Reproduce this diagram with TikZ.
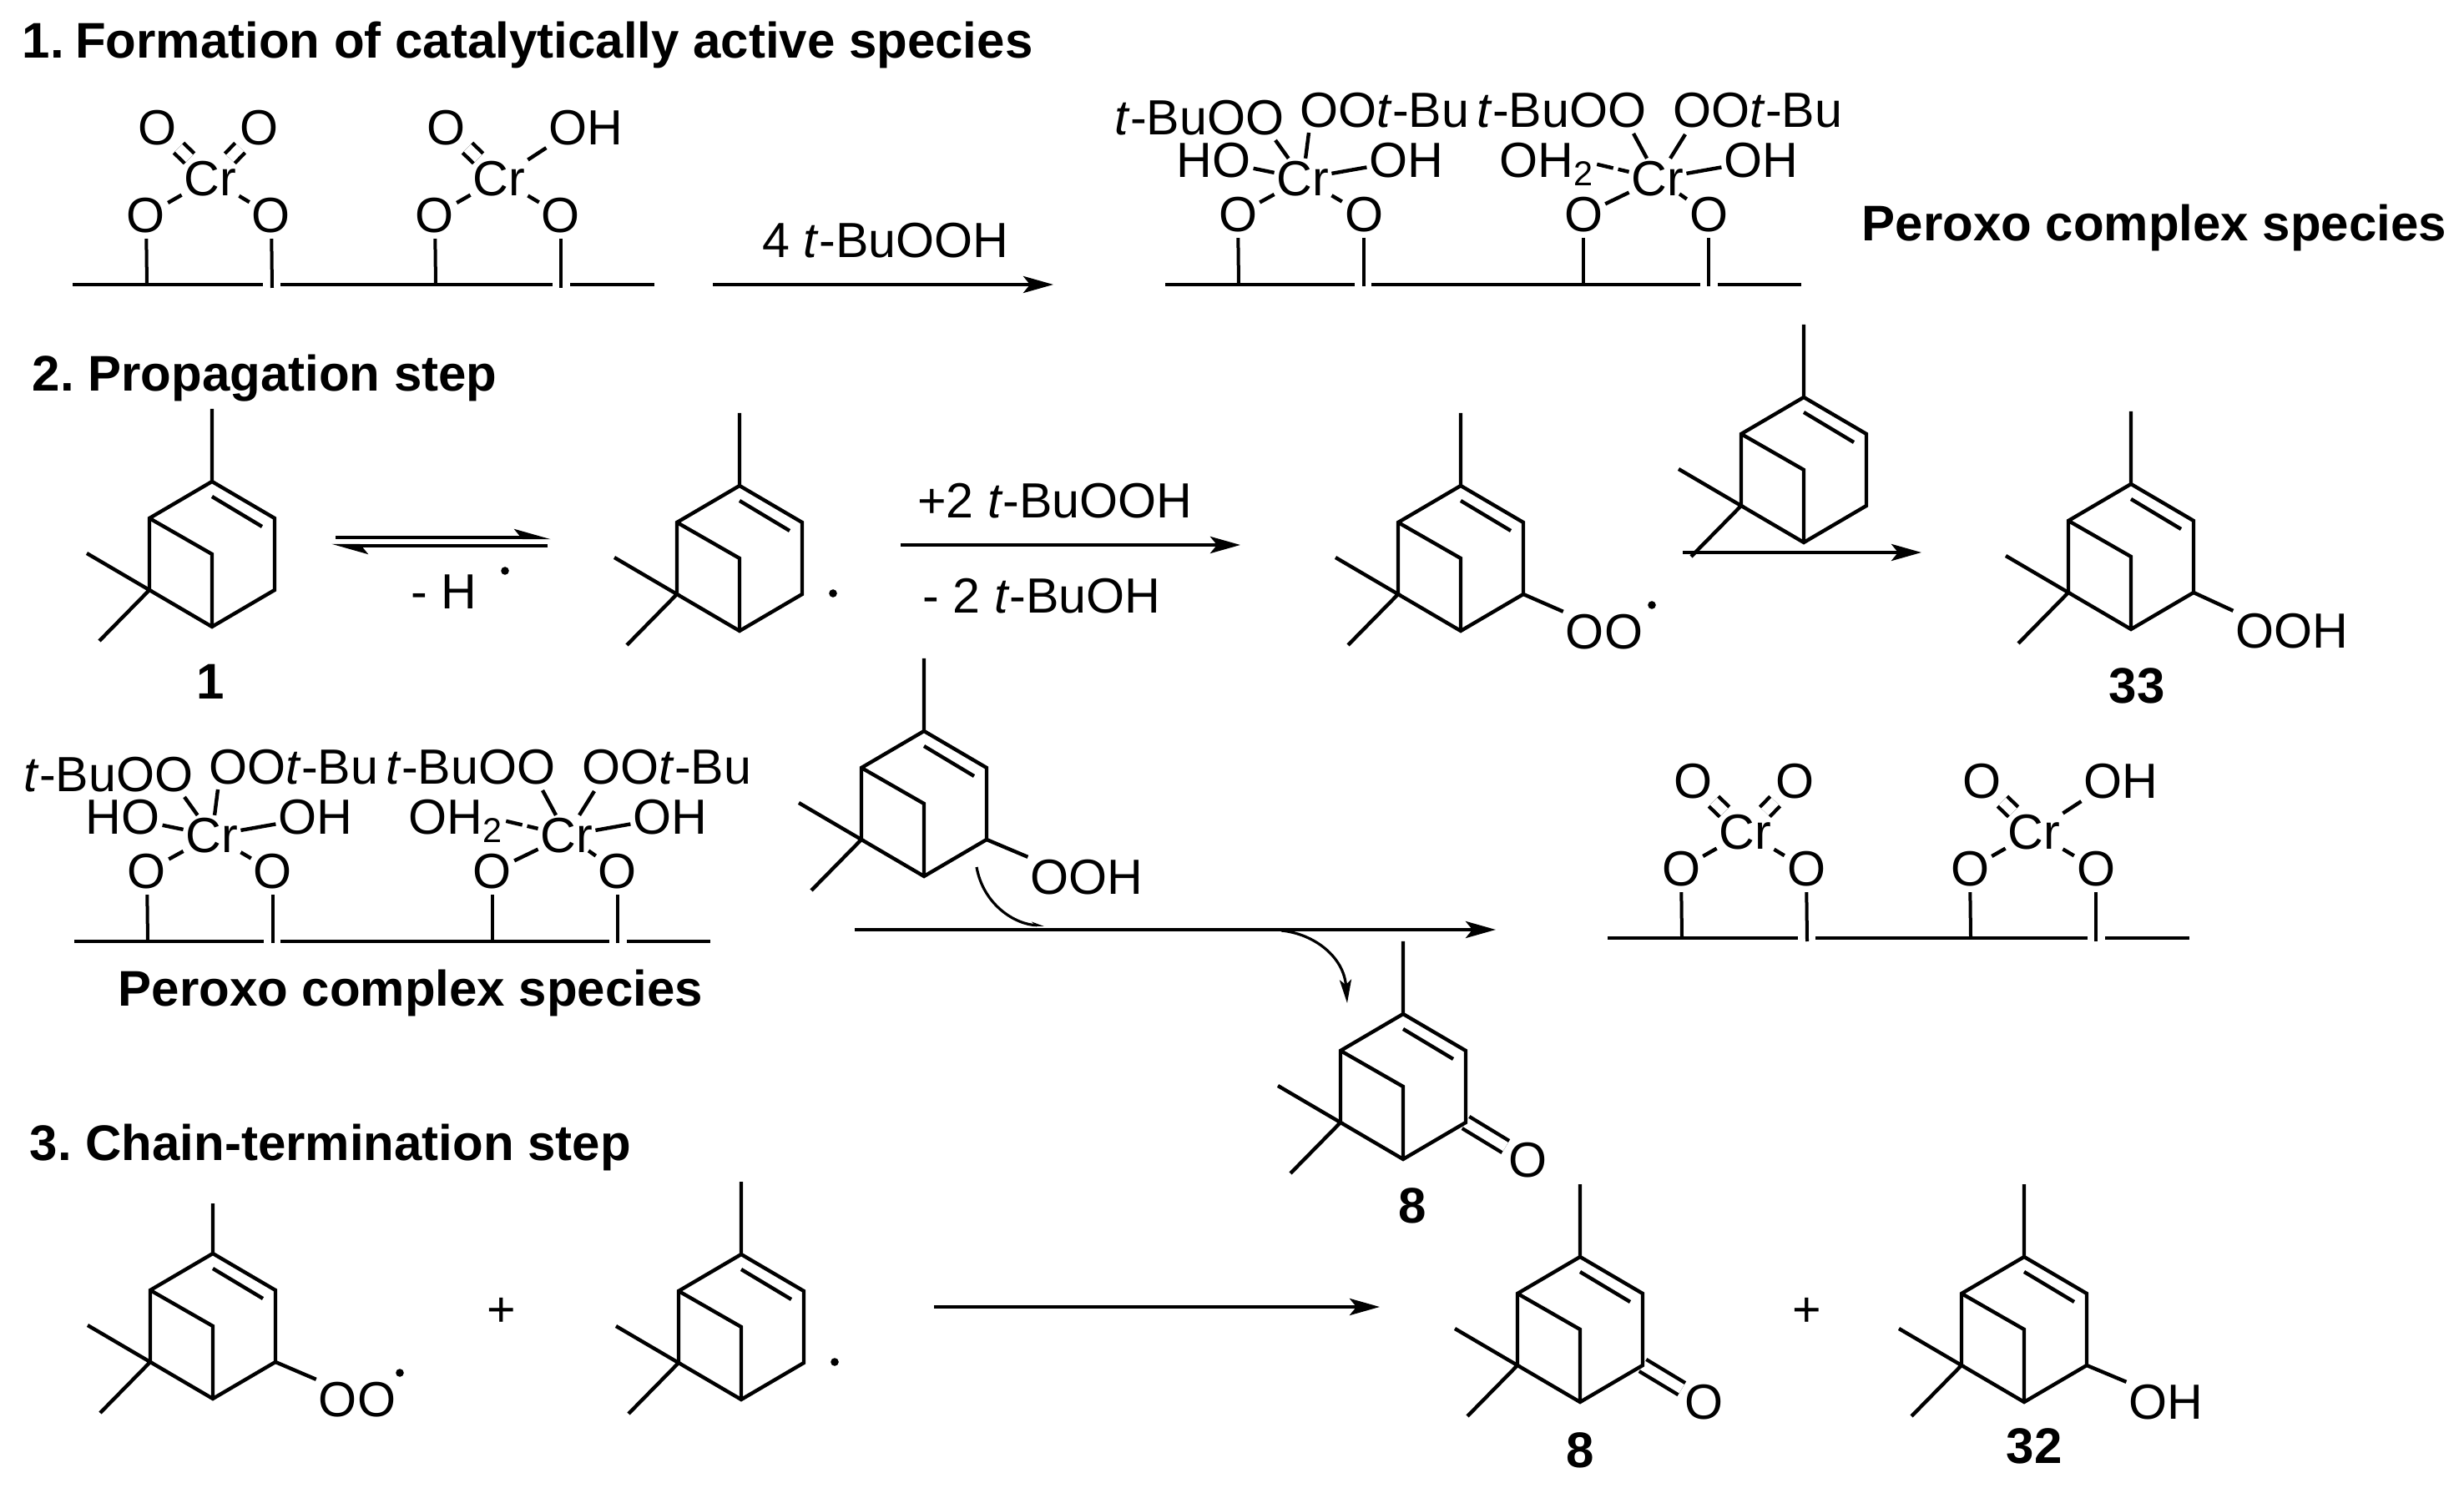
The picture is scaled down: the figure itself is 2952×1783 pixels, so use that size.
\documentclass[tikz,border=0pt]{standalone}
\usepackage{fontspec}
\setmainfont{Liberation Sans}
\usetikzlibrary{arrows.meta,backgrounds}
\tikzset{
  bond/.style={line width=1.1pt},
  dbond/.style={line width=1.1pt,double,double distance=3pt},
  stem/.style={line width=1pt,shorten <=1pt},
  atom/.style={font=\fontsize{14.8pt}{16pt}\selectfont,inner sep=0pt,outer sep=0.8pt},
  heading/.style={font=\fontsize{15pt}{17pt}\selectfont\bfseries,inner sep=0pt,anchor=base west},
  cmpd/.style={font=\fontsize{15pt}{17pt}\selectfont\bfseries,inner sep=0pt},
  radical/.style={circle,fill,inner sep=0pt,minimum size=2.4pt},
  rxn/.style={line width=1.1pt,-{Stealth[length=9pt,width=5pt,inset=2pt]}},
  harpoon/.style={line width=1.1pt,-{Stealth[left,length=9pt,width=5pt,inset=2pt]}},
  curly/.style={line width=0.8pt},
  pics/pinene/.style={code={
    \coordinate (-me)  at (0,-#1);
    \coordinate (-top) at (0,0);
    \coordinate (-ul)  at (-75,44);
    \coordinate (-ur)  at (75,44);
    \coordinate (-br)  at (0,87);
    \coordinate (-ll)  at (-75,130);
    \coordinate (-lr)  at (75,130);
    \coordinate (-bot) at (0,174);
    \coordinate (-ma)  at (-150,86);
    \coordinate (-mb)  at (-135,191);
    \coordinate (-ia)  at (0,18);
    \coordinate (-ib)  at (60,54);
    \draw[bond] (-me) -- (-top) -- (-ur) -- (-lr) -- (-bot) -- (-ll) -- (-ul) -- (-top);
    \draw[bond] (-ul) -- (-br) -- (-bot);
    \draw[bond] (-ma) -- (-ll) -- (-mb);
    \draw[bond] (-ia) -- (-ib);
  }},
  pics/pinene/.default=87,
  pics/chromate/.style={code={
    \node[atom] (-cr1) at (0,0)     {Cr};
    \node[atom] (-cr2) at (346,0)   {Cr};
    \node[atom] (-ta)  at (-63,-61) {O};
    \node[atom] (-tb)  at (59,-61)  {O};
    \node[atom] (-tc)  at (283,-61) {O};
    \node[atom] (-td)  at (450,-61) {OH};
    \node[atom] (-oa)  at (-77,44)  {O};
    \node[atom] (-ob)  at (73,44)   {O};
    \node[atom] (-oc)  at (269,44)  {O};
    \node[atom] (-od)  at (420,44)  {O};
    \coordinate (-s0) at (-165,127);
    \coordinate (-s1) at (63,127);
    \coordinate (-s2) at (84,127);
    \coordinate (-s3) at (410,127);
    \coordinate (-s4) at (431,127);
    \coordinate (-s5) at (532,127);
    \coordinate (-fa) at (-76,127);
    \coordinate (-fb) at (74,131);
    \coordinate (-fc) at (270,127);
    \coordinate (-fd) at (420,131);
    \draw[bond] (-s0) -- (-s1) (-s2) -- (-s3) (-s4) -- (-s5);
    \draw[stem] (-oa) -- (-fa);
    \draw[stem] (-ob) -- (-fb);
    \draw[stem] (-oc) -- (-fc);
    \draw[stem] (-od) -- (-fd);
    \draw[dbond] (-ta) -- (-cr1);
    \draw[dbond] (-tb) -- (-cr1);
    \draw[dbond] (-tc) -- (-cr2);
    \draw[bond]  (-td.south west) -- (-cr2);
    \draw[bond]  (-oa) -- (-cr1);
    \draw[bond]  (-ob) -- (-cr1);
    \draw[bond]  (-oc) -- (-cr2);
    \draw[bond]  (-od) -- (-cr2);
  }},
  pics/peroxo/.style={code={
    \node[atom] (-cr1) at (5,0)      {Cr};
    \node[atom] (-cr2) at (430,0)    {Cr};
    \node[atom] (-ta)  at (-119,-73) {\textit{t}-BuOO};
    \node[atom] (-tb)  at (103,-82)  {OO\textit{t}-Bu};
    \node[atom] (-tc)  at (315,-82)  {\textit{t}-BuOO};
    \node[atom] (-td)  at (550,-82)  {OO\textit{t}-Bu};
    \node[atom] (-ha)  at (-102,-22) {HO};
    \node[atom] (-hb)  at (129,-22)  {OH};
    \node[atom,anchor=base west] (-wa) at (237,-1) {OH\textsubscript{2}};
    \node[atom] (-hc)  at (554,-22)  {OH};
    \node[atom] (-oa)  at (-73,43)   {O};
    \node[atom] (-ob)  at (78,43)    {O};
    \node[atom] (-oc)  at (341,43)   {O};
    \node[atom] (-od)  at (491,43)   {O};
    \coordinate (-ea) at (-28,-46);
    \coordinate (-eb) at (12,-55);
    \coordinate (-ec) at (401,-54);
    \coordinate (-ed) at (463,-53);
    \coordinate (-s0) at (-160,127);
    \coordinate (-s1) at (67,127);
    \coordinate (-s2) at (87,127);
    \coordinate (-s3) at (481,127);
    \coordinate (-s4) at (502,127);
    \coordinate (-s5) at (602,127);
    \coordinate (-fa) at (-72,127);
    \coordinate (-fb) at (78,129);
    \coordinate (-fc) at (341,127);
    \coordinate (-fd) at (491,129);
    \draw[bond] (-s0) -- (-s1) (-s2) -- (-s3) (-s4) -- (-s5);
    \draw[stem] (-oa) -- (-fa);
    \draw[stem] (-ob) -- (-fb);
    \draw[stem] (-oc) -- (-fc);
    \draw[stem] (-od) -- (-fd);
    \draw[bond] (-ea) -- (-cr1);
    \draw[bond] (-eb) -- (-cr1);
    \draw[bond] (-ec) -- (-cr2);
    \draw[bond] (-ed) -- (-cr2);
    \draw[bond] (-ha) -- (-cr1);
    \draw[bond] (-hb) -- (-cr1);
    \draw[bond] (-hc) -- (-cr2);
    \draw[bond,dash pattern=on 5pt off 1.5pt] (-wa.east) -- (-cr2);
    \draw[bond] (-oa) -- (-cr1);
    \draw[bond] (-ob) -- (-cr1);
    \draw[bond] (-oc) -- (-cr2);
    \draw[bond,shorten <=-2.5pt] (-cr2) -- (-od);
  }}
}
\begin{document}
\begin{tikzpicture}[x=0.25pt,y=-0.25pt]
  \useasboundingbox (0,0) rectangle (2952,1783);
  \node[heading] (h1) at (26,70)   {1.\kern-0.8pt\ Formation of catalytically active species};
  \node[heading] (h2) at (38,469)  {2.\ Propagation step};
  \node[heading] (h3) at (35,1390) {3.\ Chain-termination step};

  \pic (crtop) at (252,214) {chromate};
  \pic (pxtop) at (1556,214) {peroxo};
  \coordinate (a1) at (854,341);
  \coordinate (a2) at (1262,341);
  \draw[rxn] (a1) -- (a2);
  \node[atom] (l1) at (1061,288) {4 \textit{t}-BuOOH};
  \node[heading] (sp1) at (2230,289) {Peroxo complex species};

  \pic (pin1)  at (254,577) {pinene};
  \node[cmpd] (n1) at (252,817) {1};
  \coordinate (b1) at (402,644);
  \coordinate (b2) at (660,644);
  \coordinate (b3) at (656,654);
  \coordinate (b4) at (397,654);
  \draw[harpoon] (b1) -- (b2);
  \draw[harpoon] (b3) -- (b4);
  \node[atom] (l2) at (532,709) {- H};
  \node[radical] (d1) at (605,684) {};
  \pic (pinb)  at (886,582) {pinene};
  \node[radical] (d2) at (998,711) {};
  \coordinate (c1) at (1079,653);
  \coordinate (c2) at (1486,653);
  \draw[rxn] (c1) -- (c2);
  \node[atom] (l3) at (1264,600) {+2 \textit{t}-BuOOH};
  \node[atom] (l4) at (1248,714) {- 2 \textit{t}-BuOH};
  \pic (pinc)  at (1750,582) {pinene};
  \node[atom] (pinc-oo) at (1922,757) {OO};
  \draw[bond] (pinc-lr) -- (pinc-oo.north west);
  \node[radical] (d3) at (1979,725) {};
  \pic (pind)  at (2161,476) {pinene};
  \coordinate (e1) at (2016,662);
  \coordinate (e2) at (2302,662);
  \draw[rxn] (e1) -- (e2);
  \pic (pine)  at (2553,580) {pinene};
  \node[atom] (pine-oo) at (2746,756) {OOH};
  \draw[bond] (pine-lr) -- (pine-oo.north west);
  \node[cmpd] (n33) at (2560,822) {33};

  \pic (pxleft) at (249,1001) {peroxo};
  \node[heading] (sp2) at (141,1206) {Peroxo complex species};
  \pic (pinf)  at (1107,876) {pinene};
  \node[atom] (pinf-oo) at (1302,1051) {OOH};
  \draw[bond] (pinf-lr) -- (pinf-oo.north west);
  \coordinate (f1) at (1024,1114);
  \coordinate (f2) at (1792,1114);
  \draw[rxn] (f1) -- (f2);
  \coordinate (g1) at (1170,1039);
  \coordinate (g2) at (1251,1109);
  \draw[curly,-{Stealth[left,length=3pt,width=2pt]}] (g1) .. controls +(8,45) and +(-35,-1) .. (g2);
  \coordinate (g3) at (1535,1115);
  \coordinate (g4) at (1614,1202);
  \draw[curly,-{Stealth[length=7pt,width=3.5pt,inset=1.5pt]}] (g3) .. controls +(40,4) and +(-4,-55) .. (g4);
  \pic (ping)  at (1681,1215) {pinene};
  \node[atom] (ping-o) at (1830,1390) {O};
  \begin{scope}[on background layer]
    \draw[dbond] (ping-lr) -- (ping-o);
  \end{scope}
  \node[cmpd] (n8a) at (1692,1445) {8};
  \pic (crright) at (2091,997) {chromate};

  \pic (pinh)  at (255,1502) {pinene=60};
  \node[atom] (pinh-oo) at (428,1677) {OO};
  \draw[bond] (pinh-lr) -- (pinh-oo.north west);
  \node[radical] (d4) at (479,1645) {};
  \node[atom] (p1) at (601,1572) {+};
  \pic (pini)  at (888,1503) {pinene};
  \node[radical] (d5) at (1000,1632) {};
  \coordinate (k1) at (1119,1566);
  \coordinate (k2) at (1653,1566);
  \draw[rxn] (k1) -- (k2);
  \pic (pinj)  at (1893,1506) {pinene};
  \node[atom] (pinj-o) at (2041,1680) {O};
  \begin{scope}[on background layer]
    \draw[dbond] (pinj-lr) -- (pinj-o);
  \end{scope}
  \node[cmpd] (n8b) at (1893,1738) {8};
  \node[atom] (p2) at (2165,1572) {+};
  \pic (pink)  at (2425,1506) {pinene};
  \node[atom] (pink-oh) at (2595,1680) {OH};
  \draw[bond] (pink-lr) -- (pink-oh.north west);
  \node[cmpd] (n32) at (2437,1733) {32};
\end{tikzpicture}
\end{document}
